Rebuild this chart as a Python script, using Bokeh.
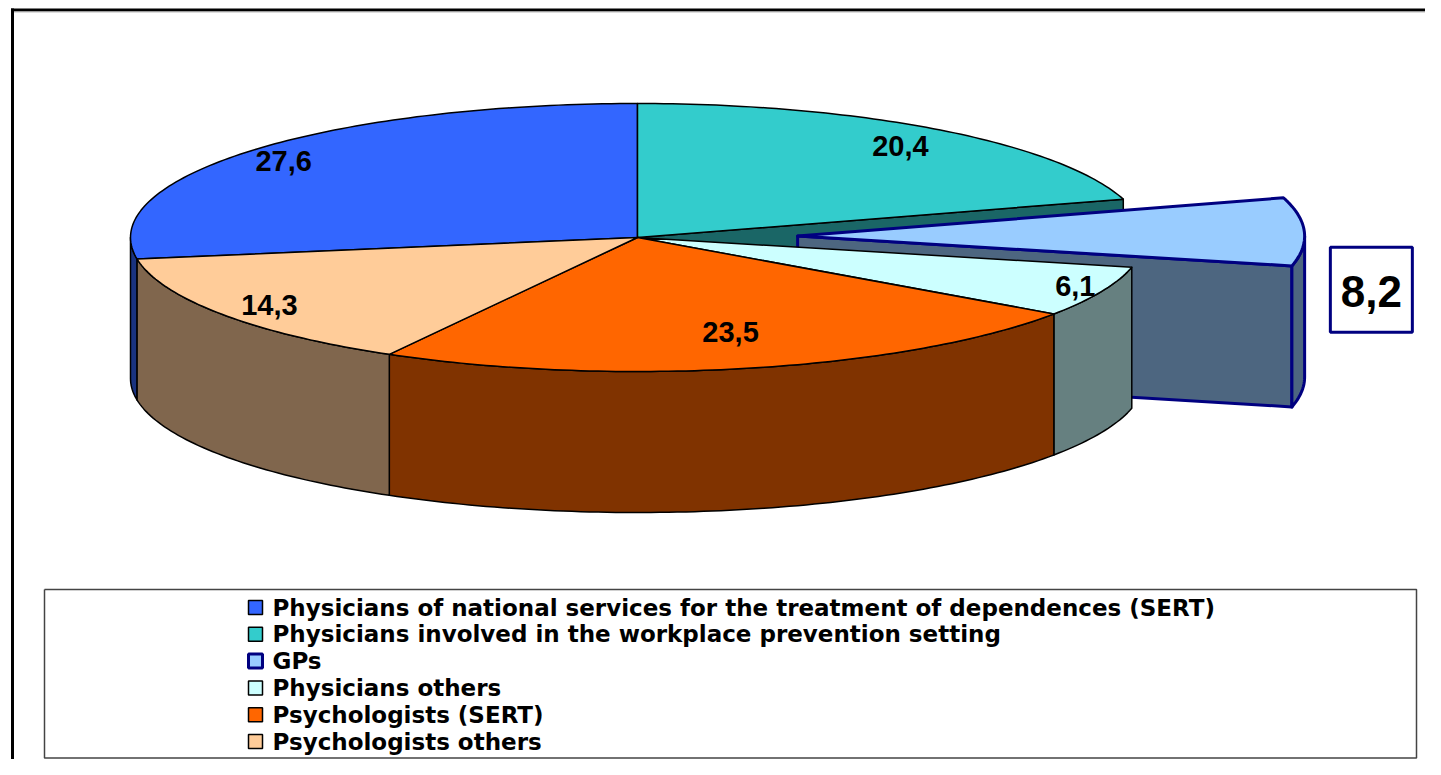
import numpy as np
from bokeh.plotting import figure
from bokeh.models import Range1d
from bokeh.core.properties import value
from bokeh.embed import file_html
from bokeh.resources import INLINE

# ---------------- data ----------------
categories = [
    "Physicians of national services for the treatment of dependences (SERT)",
    "Physicians involved in the workplace prevention setting",
    "GPs",
    "Physicians others",
    "Psychologists (SERT)",
    "Psychologists others",
]
values = [27.6, 20.4, 8.2, 6.1, 23.5, 14.3]
labels = ["27,6", "20,4", "8,2", "6,1", "23,5", "14,3"]
exploded = [False, False, True, False, False, False]

# ---------------- styles ----------------
top_colors = ["#3366FF", "#33CCCC", "#99CCFF", "#CCFFFF", "#FF6600", "#FFCC99"]
side_colors = ["#1A3380", "#1A6666", "#4D6680", "#668080", "#803300", "#80664D"]
edge_colors = ["black", "black", "#000080", "black", "black", "black"]
edge_widths = [1.5, 1.5, 3.0, 1.5, 1.5, 1.5]
# label placement (fraction of the radius, horizontal / vertical)
label_rx = [0.916, 0.868, 1.0, 0.944, 0.819, 0.886]
label_ry = [0.876, 0.847, 1.0, 0.887, 0.727, 0.885]
FONT = value("Liberation Sans")
LEG_FONT = value("DejaVu Sans")

# pie geometry (page pixels)
CX, CY = 637.0, 237.0      # centre of top ellipse
RA, RB = 507.0, 134.0      # semi axes
DEPTH = 141.0              # thickness of the pie
EXPLODE = 0.316            # explode fraction for detached slice
first_angle = 360.0 - values[0] / sum(values) * 360.0  # clockwise from 12 o'clock

W, H = 1425, 759
p = figure(width=W, height=H, x_range=Range1d(0, W), y_range=Range1d(H, 0),
           output_backend="svg", toolbar_location=None, min_border=0)
p.axis.visible = False
p.grid.visible = False
p.outline_line_color = None
p.background_fill_color = "white"


def pt(theta_deg, rx=1.0, dz=0.0, off=(0.0, 0.0), ry=None):
    if ry is None:
        ry = rx
    t = np.radians(theta_deg)
    return (CX + off[0] + rx * RA * np.sin(t), CY + off[1] - ry * RB * np.cos(t) + dz)


def arc(t0, t1, dz=0.0, off=(0.0, 0.0)):
    n = max(2, int(abs(t1 - t0)) + 2)
    ts = np.linspace(t0, t1, n)
    xs, ys = pt(ts, 1.0, dz, off)
    return list(xs), list(ys)


total = sum(values)
slices = []
a = first_angle
for i, v in enumerate(values):
    span = v / total * 360.0
    s, e = a, a + span
    mid = (s + e) / 2
    if exploded[i]:
        t = np.radians(mid)
        off = (EXPLODE * RA * np.sin(t), -EXPLODE * RB * np.cos(t))
    else:
        off = (0.0, 0.0)
    slices.append(dict(s=s, e=e, mid=mid, off=off))
    a = e


def draw_top(i):
    sl = slices[i]
    xs, ys = arc(sl["s"], sl["e"], 0, sl["off"])
    ax, ay = pt(0, 0.0, 0, sl["off"])
    p.patch([ax] + xs, [ay] + ys, fill_color=top_colors[i],
            line_color=edge_colors[i], line_width=edge_widths[i], line_join="round")


def draw_walls(i):
    sl = slices[i]
    for lo, hi in ((90, 270), (450, 630)):
        t0, t1 = max(sl["s"], lo), min(sl["e"], hi)
        if t1 > t0:
            xt, yt = arc(t0, t1, 0, sl["off"])
            xb, yb = arc(t0, t1, DEPTH, sl["off"])
            p.patch(xt + xb[::-1], yt + yb[::-1], fill_color=side_colors[i],
                    line_color=edge_colors[i], line_width=edge_widths[i], line_join="round")


def draw_cut(i, theta):
    sl = slices[i]
    x1, y1 = pt(theta, 0.0, 0, sl["off"])
    x2, y2 = pt(theta, 1.0, 0, sl["off"])
    x3, y3 = pt(theta, 1.0, DEPTH, sl["off"])
    x4, y4 = pt(theta, 0.0, DEPTH, sl["off"])
    p.patch([x1, x2, x3, x4], [y1, y2, y3, y4], fill_color=side_colors[i],
            line_color=edge_colors[i], line_width=edge_widths[i], line_join="round")


def visible_cuts(i):
    n = len(values)
    sl = slices[i]
    out = []
    prev_i, next_i = (i - 1) % n, (i + 1) % n
    if (exploded[i] or exploded[prev_i]) and np.sin(np.radians(sl["s"])) < 0:
        out.append(sl["s"])
    if (exploded[i] or exploded[next_i]) and np.sin(np.radians(sl["e"])) > 0:
        out.append(sl["e"])
    return out


# outer frame of the chart area (left and top edges)
p.line([12, 12], [8, H], line_color="black", line_width=3)
p.line([10.5, W], [9.5, 9.5], line_color="black", line_width=3)
p.line([13.5, W], [11.5, 11.5], line_color="#BBBBBB", line_width=1)

# 1. cut faces of attached slices next to the gap
for i in range(len(values)):
    if not exploded[i]:
        for th in visible_cuts(i):
            draw_cut(i, th)
# 2. detached slice
for i in range(len(values)):
    if exploded[i]:
        for th in visible_cuts(i):
            draw_cut(i, th)
        draw_walls(i)
        draw_top(i)
# 3. attached walls and tops
for i in range(len(values)):
    if not exploded[i]:
        draw_walls(i)
for i in range(len(values)):
    if not exploded[i]:
        draw_top(i)

# data labels
lx, ly, lt = [], [], []
for i, sl in enumerate(slices):
    if exploded[i]:
        continue
    x, y = pt(sl["mid"], label_rx[i], 0, (0, 0), label_ry[i])
    lx.append(x); ly.append(y); lt.append(labels[i])
p.text(lx, ly, text=lt, text_align="center", text_baseline="middle",
       text_font=FONT, text_font_style="bold", text_font_size="29px", text_color="black")

# boxed label for the detached slice
for i, sl in enumerate(slices):
    if exploded[i]:
        rx, _ = pt(sl["mid"], 1.0, 0, sl["off"])
        bx, by = rx + 67, CY + 0.37 * DEPTH
        p.rect([bx], [by], width=82, height=85, width_units="screen", height_units="screen",
               fill_color="white", line_color="#000080", line_width=3)
        p.text([bx], [by + 2], text=[labels[i]], text_align="center", text_baseline="middle",
               text_font=FONT, text_font_style="bold", text_font_size="44px", text_color="black")

# legend
LEG_L, LEG_R, LEG_T, LEG_B = 44, 1416, 589, H - 1.5
p.line([LEG_L, LEG_R, LEG_R, LEG_L, LEG_L], [LEG_T, LEG_T, LEG_B, LEG_B, LEG_T],
       line_color="#444444", line_width=1.5)
row_y = [607 + 26.8 * k for k in range(len(categories))]
for k in range(len(categories)):
    p.rect([255], [row_y[k]], width=14, height=14, width_units="screen", height_units="screen",
           fill_color=top_colors[k], line_color=edge_colors[k],
           line_width=3 if exploded[k] else 1.5)
p.text([272] * len(categories), row_y, text=categories, text_align="left", text_baseline="middle",
       text_font=LEG_FONT, text_font_style="bold", text_font_size="23px", text_color="black")

open("out.html", "w").write(file_html(p, INLINE))
